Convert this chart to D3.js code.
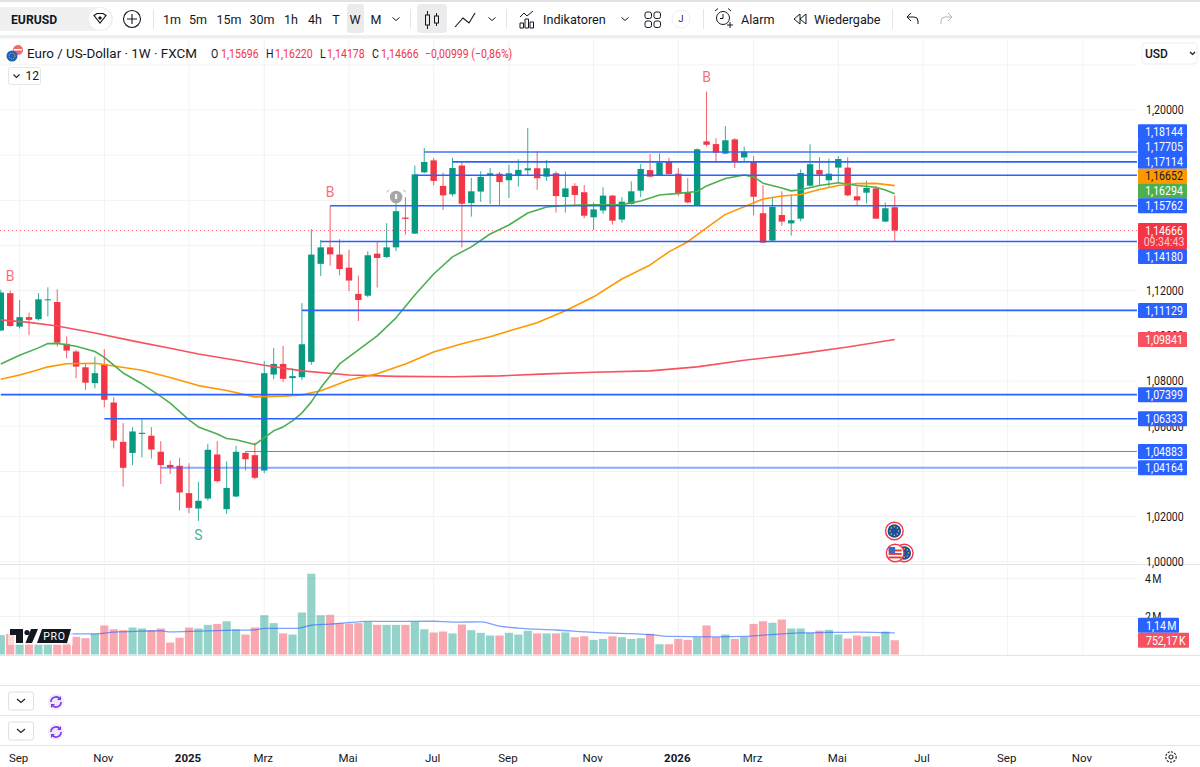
<!DOCTYPE html>
<html>
<head>
<meta charset="utf-8">
<title>EUR/USD weekly</title>
<script src="https://cdn.jsdelivr.net/npm/d3@7"></script>
<style>
  html, body { margin: 0; padding: 0; background: #fff; overflow: hidden; }
  text { font-family: "Roboto", "Liberation Sans", sans-serif; }
</style>
</head>
<body>
<svg id="chart" width="1200" height="767"></svg>
<script>
// ---- weekly OHLC, EUR/USD, FXCM ----
const opens = [
  1.1024,1.1189,1.1041,1.1083,1.1074,1.1158,1.1150,1.0965,1.0931,1.0861,
  1.0791,1.0876,1.0705,1.0531,1.0482,1.0566,1.0558,1.0487,1.0429,1.0425,
  1.0304,1.0236,1.0280,1.0475,1.0233,1.0289,1.0482,1.0472,1.0404,1.0829,
  1.0876,1.0813,1.0817,1.0885,1.1319,1.1392,1.1360,1.1302,1.1186,1.1178,
  1.1364,1.1349,1.1392,1.1524,1.1453,1.1724,1.1777,1.1664,1.1627,1.1754,
  1.1588,1.1639,1.1712,1.1718,1.1689,1.1711,1.1733,1.1742,1.1705,1.1720,
  1.1615,1.1664,1.1636,1.1525,1.1555,1.1621,1.1515,1.1584,1.1643,1.1734,
  1.1712,1.1770,1.1718,1.1633,1.1576,1.1861,1.1849,1.1807,1.1870,1.1790,
  1.1770,1.1543,1.1422,1.1535,1.1498,1.1519,1.1665,1.1734,1.1689,1.1745,
  1.1745,1.1618,1.1634,1.1653,1.1506,1.15696];
const highs = [
  1.1204,1.1201,1.1159,1.1103,1.1189,1.1215,1.1206,1.0997,1.0938,1.0876,
  1.0909,1.0941,1.0729,1.0614,1.0596,1.0633,1.0596,1.0534,1.0448,1.0460,
  1.0436,1.0354,1.0522,1.0534,1.0445,1.0513,1.0488,1.0528,1.0888,1.0947,
  1.0956,1.0857,1.1145,1.1472,1.1425,1.1575,1.1428,1.1381,1.1267,1.1375,
  1.1417,1.1499,1.1631,1.1614,1.1754,1.1832,1.1788,1.1723,1.1789,1.1767,
  1.1699,1.1729,1.1743,1.1726,1.1757,1.1782,1.1920,1.1817,1.1779,1.1729,
  1.1727,1.1676,1.1668,1.1590,1.1658,1.1624,1.1614,1.1684,1.1761,1.1805,
  1.1808,1.1789,1.1742,1.1699,1.1830,1.2081,1.1875,1.1929,1.1875,1.1838,
  1.1796,1.1667,1.1616,1.1640,1.1627,1.1737,1.1848,1.1791,1.1785,1.1796,
  1.1791,1.1661,1.1687,1.1661,1.1590,1.1622];
const lows = [
  1.1022,1.1041,1.1032,1.1003,1.1068,1.1086,1.0953,1.0901,1.0813,1.0761,
  1.0768,1.0684,1.0502,1.0333,1.0428,1.0462,1.0457,1.0345,1.0388,1.0227,
  1.0215,1.0181,1.0271,1.0351,1.0212,1.0286,1.0404,1.0366,1.0392,1.0808,
  1.0796,1.0734,1.0805,1.0872,1.1265,1.1311,1.1268,1.1198,1.1066,1.1171,
  1.1214,1.1345,1.1375,1.1448,1.1451,1.1720,1.1667,1.1557,1.1617,1.1392,
  1.1528,1.1593,1.1584,1.1578,1.1611,1.1661,1.1712,1.1646,1.1686,1.1546,
  1.1546,1.1580,1.1521,1.1469,1.1540,1.1493,1.1501,1.1581,1.1614,1.1702,
  1.1709,1.1712,1.1619,1.1587,1.1574,1.1838,1.1767,1.1805,1.1743,1.1770,
  1.1534,1.1411,1.1416,1.1487,1.1444,1.1507,1.1661,1.1667,1.1661,1.1678,
  1.1619,1.1575,1.1587,1.1518,1.1503,1.14178];
const closes = [
  1.1192,1.1044,1.1083,1.1071,1.1162,1.1162,1.0970,1.0935,1.0864,1.0793,
  1.0835,1.0717,1.0537,1.0416,1.0577,1.0571,1.0497,1.0428,1.0417,1.0307,
  1.0239,1.0270,1.0496,1.0357,1.0327,1.0487,1.0454,1.0372,1.0835,1.0876,
  1.0810,1.0822,1.0963,1.1360,1.1392,1.1361,1.1296,1.1245,1.1159,1.1357,
  1.1345,1.1392,1.1552,1.1518,1.1715,1.1770,1.1686,1.1622,1.1743,1.1585,
  1.1640,1.1704,1.1720,1.1681,1.1720,1.1735,1.1742,1.1698,1.1742,1.1619,
  1.1653,1.1624,1.1532,1.1560,1.1621,1.1510,1.1594,1.1640,1.1739,1.1705,
  1.1768,1.1717,1.1628,1.1591,1.1826,1.1846,1.1811,1.1866,1.1773,1.1816,
  1.1616,1.1413,1.1571,1.1506,1.1512,1.1721,1.1760,1.1714,1.1718,1.1783,
  1.1622,1.1600,1.1655,1.1519,1.1565,1.14666];
// weekly volume in millions
const volumes = [
  1.02,1.09,0.53,0.56,0.53,0.53,0.53,0.61,0.93,0.86,
  1.09,1.53,1.33,1.28,1.42,1.37,1.28,1.37,0.63,0.88,
  1.42,1.37,1.56,1.61,1.75,1.32,1.05,1.42,2.07,1.65,
  1.11,1.05,2.21,4.25,2.07,2.09,1.65,1.63,1.65,1.72,
  1.56,1.56,1.56,1.56,1.72,1.33,1.16,1.21,1.11,1.58,
  1.28,1.14,1.00,1.00,1.14,1.05,1.25,1.11,1.11,1.11,
  1.16,0.91,0.96,0.77,0.82,0.96,0.91,0.82,0.86,1.09,
  0.54,0.54,0.82,0.77,0.91,1.53,0.91,1.05,0.82,0.93,
  1.61,1.75,1.67,1.84,1.37,1.37,1.14,1.26,1.30,1.05,
  0.84,1.00,0.95,0.96,1.21,0.75217];

// ---- moving averages, as [bar, value] readings ----
const maGreen = [[0,1.0876],[2,1.0914],[4,1.0947],[5,1.0966],[6,1.0967],[8,1.0954],[10,1.0931],[11,1.0905],[13,1.0836],[15,1.0788],[17,1.0732],[18,1.0702],[20,1.0628],[21,1.0597],[23,1.0566],[24,1.0546],[25,1.0540],[27,1.0519],[29,1.0580],[30,1.0597],[31,1.0624],[32,1.0659],[33,1.0708],[34,1.0770],[36,1.0876],[38,1.0938],[40,1.1000],[42,1.1080],[44,1.1181],[46,1.1274],[48,1.1350],[50,1.1394],[52,1.1451],[54,1.1491],[56,1.1544],[58,1.1571],[60,1.1577],[63,1.1580],[66,1.1581],[68,1.1597],[70,1.1624],[72,1.1631],[74,1.1639],[75,1.1664],[77,1.1697],[79,1.1712],[80,1.1704],[81,1.1676],[83,1.1655],[84,1.1642],[85,1.1647],[87,1.1666],[89,1.1678],[91,1.1666],[93,1.1658],[94,1.1646],[95,1.16294]];
const maOrange = [[0,1.0808],[2,1.0827],[4,1.0850],[5,1.0863],[7,1.0877],[10,1.0879],[12,1.0867],[15,1.0848],[18,1.0816],[21,1.0780],[24,1.0758],[27,1.0730],[30,1.0733],[32,1.0739],[34,1.0757],[37,1.0805],[40,1.0832],[43,1.0876],[46,1.0929],[49,1.0965],[52,1.0996],[54,1.1022],[57,1.1058],[60,1.1111],[63,1.1173],[66,1.1252],[69,1.1314],[71,1.1372],[73,1.1417],[75,1.1478],[77,1.1538],[79,1.1572],[81,1.1606],[83,1.1619],[85,1.1626],[87,1.1648],[89,1.1666],[91,1.1674],[93,1.1675],[95,1.16652]];
const maRed = [[0,1.1071],[3,1.1060],[6,1.1044],[10,1.1013],[14,1.0978],[18,1.0945],[21,1.0920],[25,1.0892],[28,1.0870],[32,1.0845],[37,1.0827],[42,1.0821],[48,1.0819],[53,1.0823],[58,1.0832],[63,1.0839],[69,1.0845],[74,1.0863],[79,1.0892],[84,1.0916],[90,1.0951],[95,1.09841]];
const maVolume = [[7,1.09],[10,1.09],[12,1.18],[15,1.23],[17,1.25],[18,1.19],[21,1.23],[25,1.28],[27,1.30],[28,1.37],[31,1.37],[32,1.42],[33,1.54],[35,1.60],[38,1.72],[39,1.74],[46,1.75],[48,1.70],[51,1.72],[53,1.49],[55,1.39],[59,1.29],[63,1.16],[69,1.05],[71,0.95],[76,0.93],[79,0.95],[83,1.09],[85,1.14],[88,1.16],[91,1.18],[95,1.14]];

// ---- horizontal levels: price and the bar they start from ----
const levelPrices = [1.18144,1.17705,1.17114,1.15762,1.14180,1.11129,1.07399,1.06333,1.04883,1.04164];
const levelStarts = [45,48,44,35,34,32,0,11,26,17];
const levelWidths = [1.6,1.6,1.6,1.6,1.6,1.6,1.6,1.6,1,2.2];
const levelAlphas = [0.9,1,1,1,1,1,1,1,0.8,0.55];

// ---- axis labels ----
const gridLevels = [1.00,1.02,1.04,1.06,1.08,1.10,1.12,1.14,1.16,1.18,1.20,1.22];
const priceTicks = [1.00,1.02,1.06,1.08,1.10,1.12,1.20];
const volumeTicks = [2,4];
const timeLabels = ["Sep","Nov","2025","Mrz","Mai","Jul","Sep","Nov","2026","Mrz","Mai","Jul","Sep","Nov"];
const timeBars   = [2,11,20,28,37,46,54,63,72,80,89,98,107,115];

// ---- letters placed over bars: label, bar, price level of the letter's baseline ----
const signalLabels = ["B","B","B","S"];
const signalBars = [1,35,75,21];
const signalPrices = [1.1243,1.1614,1.2124,1.0097];

const intervals = ["1m","5m","15m","30m","1h","4h","T","W","M"];
const intervalX = [172,198,229,262,291,315,336,355,376];

const UP = "#089981", DOWN = "#F23645", BLUE = "#2962FF", INK = "#131722", GRID = "#f3f3f4";

const svg = d3.select("#chart");
const plotRight = 1137, paneTop = 38, paneBottom = 564, volBottom = 655;

const de = d3.formatLocale({decimal: ",", thousands: ".", grouping: [3], currency: ["", ""], minus: "\u2212"});
const fmtPrice = de.format(".5f");
const fmtPct = de.format(".2f");

const x = d3.scaleLinear().domain([0, 120]).range([0.8, 0.8 + 120 * 9.41]);
const y = d3.scaleLinear().domain([1.00, 1.20]).range([561.8, 110]);
const yVol = d3.scaleLinear().domain([0, 4]).range([654.5, 578.5]);

const bars = opens.map((o, i) => ({i, o, h: highs[i], l: lows[i], c: closes[i], v: volumes[i], col: closes[i] >= o ? UP : DOWN}));

// ---- grid ----
const grid = svg.append("g");
grid.selectAll("line.v").data(timeBars).join("line")
  .attr("x1", d => x(d)).attr("x2", d => x(d)).attr("y1", paneTop).attr("y2", volBottom)
  .attr("stroke", GRID);
grid.selectAll("line.h").data(gridLevels).join("line")
  .attr("x1", 0).attr("x2", plotRight).attr("y1", d => y(d)).attr("y2", d => y(d))
  .attr("stroke", GRID);
grid.selectAll("line.vh").data(volumeTicks).join("line")
  .attr("x1", 0).attr("x2", plotRight).attr("y1", d => yVol(d)).attr("y2", d => yVol(d))
  .attr("stroke", GRID);

// pane separators
[[paneBottom],[volBottom],[685],[715],[745]].forEach(([py]) => {
  svg.append("line").attr("x1", 0).attr("x2", 1200).attr("y1", py + .5).attr("y2", py + .5).attr("stroke", "#e4e4e6");
});

const clip = svg.append("defs").append("clipPath").attr("id", "plot");
clip.append("rect").attr("x", 0).attr("y", paneTop).attr("width", plotRight).attr("height", volBottom - paneTop);
const plot = svg.append("g").attr("clip-path", "url(#plot)");

// ---- volume bars ----
plot.append("g").selectAll("rect").data(bars).join("rect")
  .attr("x", d => x(d.i) - 4.1).attr("width", 8.2)
  .attr("y", d => yVol(d.v)).attr("height", d => yVol(0) - yVol(d.v))
  .attr("fill", d => d.col).attr("fill-opacity", .43);
plot.append("path")
  .attr("d", d3.line().x(d => x(d[0])).y(d => yVol(d[1])).curve(d3.curveMonotoneX)(maVolume))
  .attr("fill", "none").attr("stroke", BLUE).attr("stroke-opacity", .6).attr("stroke-width", 1.3);

// ---- last price line ----
plot.append("line").attr("x1", 0).attr("x2", plotRight)
  .attr("y1", y(closes[95])).attr("y2", y(closes[95]))
  .attr("stroke", DOWN).attr("stroke-opacity", .75).attr("stroke-dasharray", "1 3");

// ---- candles ----
const candle = plot.append("g").selectAll("g").data(bars).join("g");
candle.append("line")
  .attr("x1", d => x(d.i)).attr("x2", d => x(d.i))
  .attr("y1", d => y(d.h)).attr("y2", d => y(d.l))
  .attr("stroke", d => d.col).attr("stroke-opacity", .8);
candle.append("rect")
  .attr("x", d => x(d.i) - 3.2).attr("width", 6.4)
  .attr("y", d => y(Math.max(d.o, d.c)))
  .attr("height", d => Math.max(1, Math.abs(y(d.o) - y(d.c))))
  .attr("fill", d => d.col);

// ---- moving averages ----
const lineFn = d3.line().x(d => x(d[0])).y(d => y(d[1]));
[[maRed, "#F7525F"], [maOrange, "#FF9800"], [maGreen, "#4CAF50"]].forEach(([series, colour]) => {
  plot.append("path").attr("d", lineFn(series)).attr("fill", "none")
    .attr("stroke", colour).attr("stroke-width", 1.6).attr("stroke-linejoin", "round");
});

// ---- horizontal levels ----
plot.append("g").selectAll("line").data(levelPrices).join("line")
  .attr("x1", (d, i) => x(levelStarts[i])).attr("x2", plotRight)
  .attr("y1", d => y(d)).attr("y2", d => y(d))
  .attr("stroke", BLUE)
  .attr("stroke-width", (d, i) => levelWidths[i])
  .attr("stroke-opacity", (d, i) => levelAlphas[i]);

// ---- trade signals ----
svg.append("g").selectAll("text").data(signalLabels).join("text")
  .attr("x", (d, i) => x(signalBars[i])).attr("y", (d, i) => y(signalPrices[i]))
  .attr("text-anchor", "middle").attr("font-size", 14)
  .attr("fill", d => d === "B" ? "#F7525F" : "#22a08a").attr("fill-opacity", .85)
  .text(d => d);

// alert bell sitting on a bar
const bell = svg.append("g").attr("transform", `translate(${x(42) + .1},197)`);
bell.append("circle").attr("r", 6.3).attr("fill", "#a6a6a8");
bell.append("rect").attr("x", -1).attr("y", -3).attr("width", 2).attr("height", 5).attr("fill", "#fff");
bell.append("path").attr("d", "M-7,-7 L-9.5,-5 M7,-7 L9.5,-5").attr("stroke", "#a6a6a8").attr("stroke-width", 1).attr("fill", "none");

// economic event markers
function eventBadge(px, py, kind) {
  const g = svg.append("g").attr("transform", `translate(${px},${py})`);
  g.append("circle").attr("r", 8.8).attr("fill", "#fff").attr("stroke", "#F23645").attr("stroke-width", 1.4);
  if (kind === "eu") {
    g.append("circle").attr("r", 6.8).attr("fill", "#1a4fa0");
    d3.range(8).forEach(k => {
      const a = k / 8 * 2 * Math.PI;
      g.append("circle").attr("cx", 4.2 * Math.cos(a)).attr("cy", 4.2 * Math.sin(a)).attr("r", .8).attr("fill", "#f4c430");
    });
  } else {
    g.append("circle").attr("r", 6.8).attr("fill", "#fff");
    [-3.5, 0, 3.5].forEach(dy => g.append("rect").attr("x", -6.5).attr("y", dy).attr("width", 13).attr("height", 1.9).attr("fill", "#e53935"));
    g.append("rect").attr("x", -6.5).attr("y", -6).attr("width", 6.5).attr("height", 6).attr("fill", "#3f67c4");
  }
}
eventBadge(x(95) + 9.5, 553, "eu");
eventBadge(x(95) + .4, 553, "us");
eventBadge(x(95) - .4, 531, "eu");

// TradingView style watermark
const wm = svg.append("g").attr("transform", "translate(10,629)");
wm.append("rect").attr("x", -2).attr("y", -2).attr("width", 65).attr("height", 18).attr("fill", "#fff").attr("fill-opacity", .55);
wm.append("path").attr("d", "M0,0 H13 V14 H6 V6 H0 Z").attr("fill", "#131722");
wm.append("circle").attr("cx", 17).attr("cy", 3.5).attr("r", 2.6).attr("fill", "#131722");
wm.append("path").attr("d", "M21,0 H28 L22,14 H15.5 Z").attr("fill", "#131722");
wm.append("path").attr("d", "M32,0 H61 L57,14 H27 Z").attr("fill", "#131722");
wm.append("text").attr("x", 44.5).attr("y", 11).attr("text-anchor", "middle").attr("font-size", 10.5)
  .attr("fill", "#fff").attr("letter-spacing", .7).text("PRO");

// ---- price axis ----
const priceAxis = d3.axisRight(y).tickValues(priceTicks).tickFormat(fmtPrice).tickSize(0).tickPadding(0);
const axisG = svg.append("g").attr("class", "num").attr("transform", "translate(1146,0)").call(priceAxis);
axisG.select(".domain").remove();
axisG.selectAll("text").attr("font-size", 12).attr("fill", INK).attr("font-family", null);

const volAxis = d3.axisRight(yVol).tickValues(volumeTicks).tickFormat(d => d + "\u202fM").tickSize(0).tickPadding(0);
const volG = svg.append("g").attr("class", "num").attr("transform", "translate(1145,0)").call(volAxis);
volG.select(".domain").remove();
volG.selectAll("text").attr("font-size", 12).attr("fill", INK).attr("font-family", null);

// ---- value tags on the right edge, stacked so they never overlap ----
const tagH = 14.8;
const upperTags = [
  {v: 1.18144, fill: BLUE}, {v: 1.17705, fill: BLUE}, {v: 1.17114, fill: BLUE},
  {v: 1.16652, fill: "#FF9800", ink: "#131722"}, {v: 1.16294, fill: "#4CAF50"}, {v: 1.15762, fill: BLUE}
];
for (let k = upperTags.length - 1, last = Infinity; k >= 0; k--) {
  upperTags[k].cy = Math.min(y(upperTags[k].v), last - tagH);
  last = upperTags[k].cy;
}
const lastTagTop = y(closes[95]) - 7.5, lastTagH = 26;
const lowerTags = [
  {v: 1.14180, fill: BLUE, cy: Math.max(y(1.14180), lastTagTop + lastTagH + 7.5)},
  {v: 1.11129, fill: BLUE}, {v: 1.09841, fill: "#F7525F"}, {v: 1.07399, fill: BLUE},
  {v: 1.06333, fill: BLUE}, {v: 1.04883, fill: BLUE}, {v: 1.04164, fill: BLUE}
];
for (let k = 1; k < lowerTags.length; k++) {
  lowerTags[k].cy = Math.max(y(lowerTags[k].v), lowerTags[k - 1].cy + 15);
}
const tagG = svg.append("g").attr("class", "num");
const tags = tagG.selectAll("g").data(upperTags.concat(lowerTags)).join("g")
  .attr("transform", d => `translate(1138,${d.cy})`);
tags.append("rect").attr("y", -7.5).attr("width", 49).attr("height", 15).attr("rx", 1).attr("fill", d => d.fill);
tags.append("text").attr("x", 26).attr("dy", "0.36em").attr("text-anchor", "middle").attr("font-size", 12)
  .attr("fill", d => d.ink || "#fff").text(d => fmtPrice(d.v));

// last price with bar countdown
const lastTag = tagG.append("g").attr("transform", `translate(1138,${lastTagTop})`);
lastTag.append("rect").attr("width", 49).attr("height", lastTagH).attr("rx", 1).attr("fill", DOWN);
lastTag.append("text").attr("x", 26).attr("y", 12).attr("text-anchor", "middle").attr("font-size", 12).attr("fill", "#fff").text(fmtPrice(closes[95]));
lastTag.append("text").attr("x", 26).attr("y", 23.5).attr("text-anchor", "middle").attr("font-size", 12).attr("fill", "#fbc9cd").text("09:34:43");

// volume pane tags
const volTags = [
  {label: "1,14\u202fM", fill: BLUE, w: 41, cy: yVol(0.75217) - 15},
  {label: "752,17\u202fK", fill: "#F7525F", w: 51, cy: yVol(0.75217)}
];
const vt = tagG.selectAll("g.vt").data(volTags).join("g").attr("class", "vt")
  .attr("transform", d => `translate(1138,${d.cy})`);
vt.append("rect").attr("y", -7.5).attr("width", d => d.w).attr("height", 15).attr("rx", 1).attr("fill", d => d.fill);
vt.append("text").attr("x", 8).attr("dy", "0.36em").attr("font-size", 12).attr("fill", "#fff").text(d => d.label);

// currency button
const usd = svg.append("g").attr("transform", "translate(1142,43)");
usd.append("rect").attr("width", 55).attr("height", 21).attr("rx", 3).attr("fill", "#fff").attr("stroke", "#eeeef0");
usd.append("text").attr("x", 3).attr("y", 15).attr("font-size", 12).attr("fill", INK).attr("font-weight", 500).text("USD");
usd.append("path").attr("d", "M48,9 l2.5,2.5 l2.5,-2.5").attr("fill", "none").attr("stroke", INK).attr("stroke-width", 1.2);

// ---- time axis ----
const timeAxis = svg.append("g");
timeAxis.selectAll("text").data(timeLabels).join("text")
  .attr("x", (d, i) => x(timeBars[i]) - 1).attr("y", 761.5)
  .attr("text-anchor", "middle").attr("font-size", 11.5).attr("fill", INK)
  .attr("font-weight", d => /^\d+$/.test(d) ? 700 : 400)
  .text(d => d);
// settings gear
const gear = svg.append("g").attr("transform", "translate(1171,757)").attr("fill", "none").attr("stroke", "#333").attr("stroke-width", 1.2);
gear.append("circle").attr("r", 2);
gear.append("circle").attr("r", 5.2).attr("stroke-dasharray", "2.2 1.2");

// collapsed panes with their reload buttons
[701, 731].forEach(cy => {
  const g = svg.append("g").attr("transform", `translate(0,${cy})`);
  g.append("rect").attr("x", 8.5).attr("y", -9).attr("width", 25).attr("height", 18).attr("rx", 2).attr("fill", "#fff").attr("stroke", "#e0e0e2");
  g.append("path").attr("d", "M17,-2 l4,3.5 l4,-3.5").attr("fill", "none").attr("stroke", "#222").attr("stroke-width", 1.2);
  g.append("circle").attr("cx", 56).attr("cy", 1).attr("r", 8).attr("fill", "#efe9fb");
  g.append("path").attr("d", "M51,1 a5,5 0 0 1 9,-3 M61,1 a5,5 0 0 1 -9,3").attr("fill", "none").attr("stroke", "#7c3aed").attr("stroke-width", 1.6);
  g.append("path").attr("d", "M61,-5 v4 h-4 Z M51,7 v-4 h4 Z").attr("fill", "#7c3aed");
});

// ---- legend row ----
const legendIcon = svg.append("g").attr("transform", "translate(12,56)");
legendIcon.append("circle").attr("cx", 6).attr("cy", -6).attr("r", 5).attr("fill", "#f26a6a");
legendIcon.append("rect").attr("x", 2).attr("y", -7).attr("width", 8).attr("height", 1.5).attr("fill", "#fff");
legendIcon.append("circle").attr("r", 5.5).attr("fill", "#1f5fb8");
legendIcon.append("circle").attr("r", 3).attr("fill", "none").attr("stroke", "#e8c34a").attr("stroke-dasharray", "1 1.4");

svg.append("text").attr("x", 27).attr("y", 58).attr("font-size", 13.4).attr("fill", INK)
  .text("Euro / US-Dollar \u00b7 1W \u00b7 FXCM");

const change = closes[95] - 1.15665;
const legendRun = [
  ["O", 211, INK], [fmtPrice(opens[95]), 221, DOWN],
  ["H", 266, INK], [fmtPrice(highs[95]), 275, DOWN],
  ["L", 320, INK], [fmtPrice(lows[95]), 327, DOWN],
  ["C", 372, INK], [fmtPrice(closes[95]), 381, DOWN],
  [`${fmtPrice(change)} (${fmtPct(change / 1.15665 * 100)}%)`, 425, DOWN]
];
svg.append("g").attr("class", "num").selectAll("text").data(legendRun).join("text")
  .attr("x", d => d[1]).attr("y", 57.5).attr("font-size", 12).attr("fill", d => d[2]).text(d => d[0]);

const collapseBox = svg.append("g").attr("transform", "translate(8.5,67.5)");
collapseBox.append("rect").attr("width", 32).attr("height", 17).attr("rx", 2).attr("fill", "#fff").attr("stroke", "#e6e6e8");
collapseBox.append("path").attr("d", "M5,7 l3,3 l3,-3").attr("fill", "none").attr("stroke", "#222").attr("stroke-width", 1.1);
collapseBox.append("text").attr("x", 17).attr("y", 12.5).attr("font-size", 12).attr("fill", INK).text("12");

// ---- toolbar ----
const bar = svg.append("g");
bar.append("rect").attr("width", 1200).attr("height", 38).attr("fill", "#fff");
bar.append("rect").attr("width", 1200).attr("height", 2).attr("fill", "#e2e2e2");
bar.append("rect").attr("y", 35).attr("width", 1200).attr("height", 3.5).attr("fill", "#efefef");

bar.append("rect").attr("x", -10).attr("y", 7).attr("width", 123).attr("height", 24).attr("rx", 12).attr("fill", "#f0f0f0");
bar.append("text").attr("x", 11).attr("y", 23.5).attr("font-size", 12.2).attr("font-weight", 700).attr("fill", INK).text("EURUSD");
bar.append("circle").attr("cx", 100).attr("cy", 19).attr("r", 11).attr("fill", "#fff");
bar.append("path").attr("d", "M94,15.5 L97,13.5 H103 L106,15.5 L100,23 Z").attr("fill", "none").attr("stroke", INK).attr("stroke-width", 1.2);
bar.append("path").attr("d", "M100,16 l2,2 l-2,2 l-2,-2 Z").attr("fill", INK);

bar.append("circle").attr("cx", 132).attr("cy", 19).attr("r", 8.5).attr("fill", "none").attr("stroke", INK).attr("stroke-width", 1.1);
bar.append("path").attr("d", "M132,14 v10 M127,19 h10").attr("stroke", INK).attr("stroke-width", 1.1);

[153.5, 410.5, 506.5, 703.5, 892.5].forEach(dx => {
  bar.append("line").attr("x1", dx).attr("x2", dx).attr("y1", 9).attr("y2", 29).attr("stroke", "#e4e4e6");
});

bar.append("rect").attr("x", 347).attr("y", 4).attr("width", 17).attr("height", 29).attr("rx", 3).attr("fill", "#ebebeb");
bar.append("g").selectAll("text").data(intervals).join("text")
  .attr("x", (d, i) => intervalX[i]).attr("y", 23.5).attr("text-anchor", "middle")
  .attr("font-size", 12.5).attr("fill", INK).text(d => d);

const chevron = cx => bar.append("path").attr("d", `M${cx - 3.5},17.5 l3.5,3 l3.5,-3`).attr("fill", "none").attr("stroke", INK).attr("stroke-width", 1);
[396, 492, 625].forEach(chevron);

// candle style button
bar.append("rect").attr("x", 417).attr("y", 4).attr("width", 30).attr("height", 29).attr("rx", 4).attr("fill", "#ebebeb");
bar.append("path").attr("d", "M427.5,11 v4 M427.5,25 v4 M436.5,13 v3 M436.5,23 v3").attr("stroke", INK);
bar.append("rect").attr("x", 425.5).attr("y", 15).attr("width", 4).attr("height", 10).attr("fill", "none").attr("stroke", INK);
bar.append("rect").attr("x", 434.5).attr("y", 16).attr("width", 4).attr("height", 7).attr("fill", "none").attr("stroke", INK);

// drawing tool and indicator icons
bar.append("path").attr("d", "M455,27 L463,18 L469,23 L475,13").attr("fill", "none").attr("stroke", INK).attr("stroke-width", 1.1);
bar.append("path").attr("d", "M520,28 v-5 h3.5 v5 Z M525,28 v-9 h3.5 v9 Z M530,28 v-6 h3.5 v6 Z").attr("fill", "none").attr("stroke", INK);
bar.append("path").attr("d", "M520,17 l4,-4 l3,3 l6,-5").attr("fill", "none").attr("stroke", INK);
bar.append("text").attr("x", 543).attr("y", 23.5).attr("font-size", 12.6).attr("fill", INK).text("Indikatoren");

// layout button
[[645,12],[654,12],[645,21],[654,21]].forEach(([rx, ry]) => {
  bar.append("rect").attr("x", rx).attr("y", ry).attr("width", 6.5).attr("height", 6.5).attr("rx", 2).attr("fill", "none").attr("stroke", INK);
});
bar.append("circle").attr("cx", 681).attr("cy", 19).attr("r", 9).attr("fill", "#fff").attr("stroke", "#eeeeee");
bar.append("text").attr("x", 681).attr("y", 22).attr("text-anchor", "middle").attr("font-size", 9).attr("fill", INK).text("J");

// alarm
bar.append("circle").attr("cx", 723).attr("cy", 18).attr("r", 6.5).attr("fill", "none").attr("stroke", INK);
bar.append("path").attr("d", "M723,14 v4.5 h-3 M715,11 l3,-2.5 M731,11 l-3,-2.5 M730,22 v6 M727,25 h6").attr("fill", "none").attr("stroke", INK);
bar.append("text").attr("x", 741).attr("y", 23.5).attr("font-size", 12.6).attr("fill", INK).text("Alarm");

// replay
bar.append("path").attr("d", "M800,14 l-6,5 l6,5 Z M806,14 l-6,5 l6,5 Z").attr("fill", "none").attr("stroke", INK);
bar.append("text").attr("x", 814).attr("y", 23.5).attr("font-size", 12.6).attr("fill", INK).text("Wiedergabe");

// undo / redo
bar.append("path").attr("d", "M918,24 v-3 a4,4 0 0 0 -4,-4 h-7 M911,13 l-4,4 l4,4").attr("fill", "none").attr("stroke", INK);
bar.append("path").attr("d", "M941,24 v-3 a4,4 0 0 1 4,-4 h7 M948,13 l4,4 l-4,4").attr("fill", "none").attr("stroke", "#b5b5b8");

// numeric labels set slightly condensed so they sit inside their tags
d3.selectAll(".num text").each(function () {
  this.setAttribute("lengthAdjust", "spacingAndGlyphs");
  this.setAttribute("textLength", this.getComputedTextLength() * 0.88);
});
</script>
</body>
</html>
